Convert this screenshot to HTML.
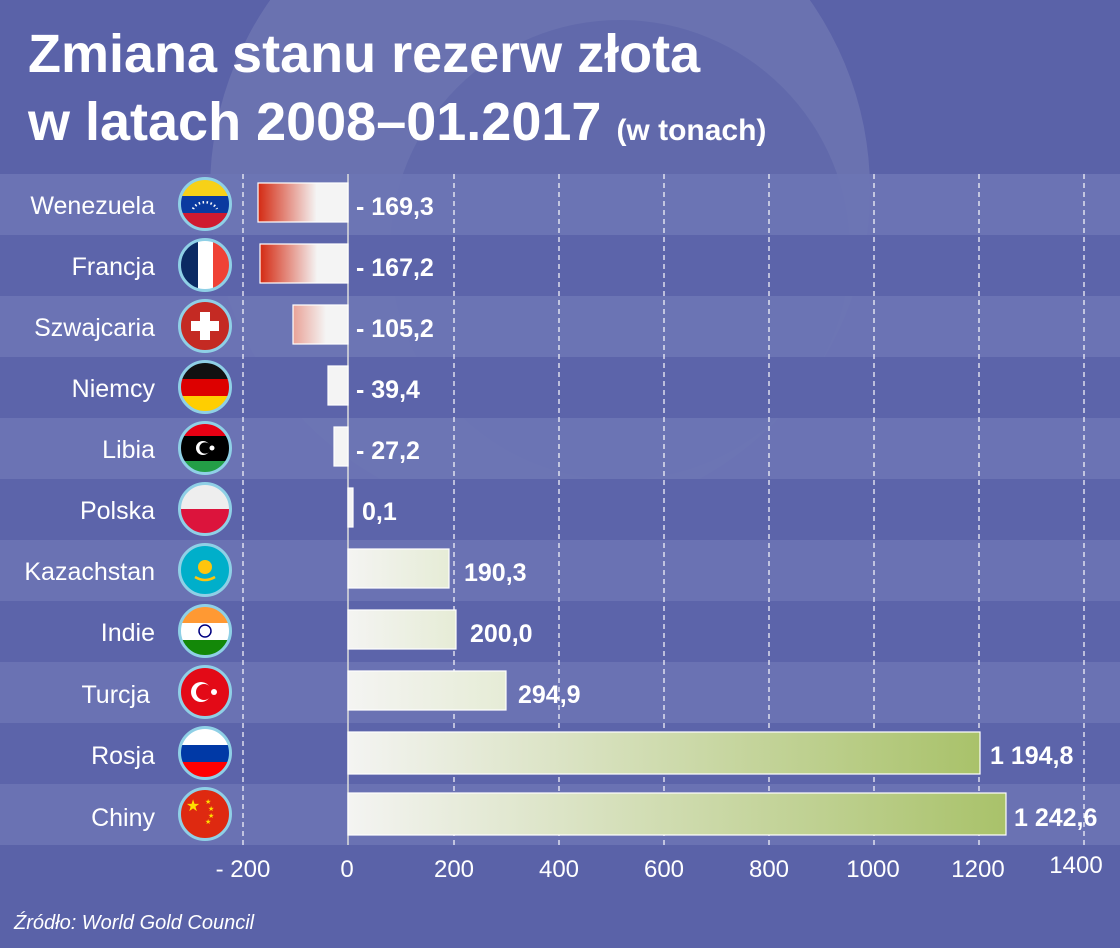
<!DOCTYPE html>
<html><head><meta charset="utf-8"><style>
body{margin:0;background:#5a62a8;}
svg{display:block;font-family:"Liberation Sans",sans-serif;}
</style></head><body>
<svg width="1120" height="948" viewBox="0 0 1120 948" xmlns="http://www.w3.org/2000/svg">
<defs>
<linearGradient id="red" x1="0" x2="1"><stop offset="0" stop-color="#d42a12"/><stop offset="0.65" stop-color="#f4f4f4"/><stop offset="1" stop-color="#f4f4f4"/></linearGradient>
<linearGradient id="red2" x1="0" x2="1"><stop offset="0" stop-color="#e9a196"/><stop offset="0.6" stop-color="#f4f4f4"/></linearGradient>
<linearGradient id="grn" x1="0" x2="1"><stop offset="0" stop-color="#f4f4f2"/><stop offset="1" stop-color="#a9c26a"/></linearGradient>
<linearGradient id="grn2" x1="0" x2="1"><stop offset="0" stop-color="#f4f4f2"/><stop offset="1" stop-color="#e6ecd6"/></linearGradient>
<clipPath id="c"><circle cx="0" cy="0" r="25"/></clipPath>
</defs>
<rect width="1120" height="948" fill="#5a62a8"/>
<circle cx="540" cy="190" r="330" fill="#ffffff" opacity="0.10"/>
<circle cx="620" cy="250" r="230" fill="#5a62a8" opacity="0.55"/>
<text x="28" y="72" font-size="54" font-weight="bold" fill="#fff">Zmiana stanu rezerw złota</text>
<text x="28" y="140" font-size="54" font-weight="bold" fill="#fff">w latach 2008–01.2017 <tspan font-size="30">(w tonach)</tspan></text>
<g id="rows">
<rect x="0" y="174" width="1120" height="61" fill="#6d75b5" opacity="0.9"/>
<rect x="0" y="235" width="1120" height="61" fill="#5c64aa"/>
<rect x="0" y="296" width="1120" height="61" fill="#6d75b5" opacity="0.9"/>
<rect x="0" y="357" width="1120" height="61" fill="#5c64aa"/>
<rect x="0" y="418" width="1120" height="61" fill="#6d75b5" opacity="0.9"/>
<rect x="0" y="479" width="1120" height="61" fill="#5c64aa"/>
<rect x="0" y="540" width="1120" height="61" fill="#6a72b3"/>
<rect x="0" y="601" width="1120" height="61" fill="#5c64aa"/>
<rect x="0" y="662" width="1120" height="61" fill="#6a72b3"/>
<rect x="0" y="723" width="1120" height="61" fill="#5c64aa"/>
<rect x="0" y="784" width="1120" height="61" fill="#6a72b3"/>
</g>
<g stroke="#fff" stroke-width="1.3" stroke-dasharray="5,4" opacity="0.9">
<line x1="243" y1="174" x2="243" y2="845"/><line x1="454" y1="174" x2="454" y2="845"/>
<line x1="559" y1="174" x2="559" y2="845"/><line x1="664" y1="174" x2="664" y2="845"/>
<line x1="769" y1="174" x2="769" y2="845"/><line x1="874" y1="174" x2="874" y2="845"/>
<line x1="979" y1="174" x2="979" y2="845"/><line x1="1084" y1="174" x2="1084" y2="845"/>
</g>
<line x1="348" y1="174" x2="348" y2="845" stroke="#ddd" stroke-width="1.5"/>
<g stroke="#fff" stroke-width="1.2">
<rect x="258" y="183" width="90" height="39" fill="url(#red)"/>
<rect x="260" y="244" width="88" height="39" fill="url(#red)"/>
<rect x="293" y="305" width="55" height="39" fill="url(#red2)"/>
<rect x="328" y="366" width="20" height="39" fill="#f4f4f4"/>
<rect x="334" y="427" width="14" height="39" fill="#f4f4f4"/>
<rect x="348" y="488" width="5" height="39" fill="#f4f4f4"/>
<rect x="348" y="549" width="101" height="39" fill="url(#grn2)"/>
<rect x="348" y="610" width="108" height="39" fill="url(#grn2)"/>
<rect x="348" y="671" width="158" height="39" fill="url(#grn2)"/>
<rect x="348" y="732" width="632" height="42" fill="url(#grn)"/>
<rect x="348" y="793" width="658" height="42" fill="url(#grn)"/>
</g>
<g fill="#fff" font-size="25" text-anchor="end">
<text x="155" y="214">Wenezuela</text><text x="155" y="275">Francja</text>
<text x="155" y="336">Szwajcaria</text><text x="155" y="397">Niemcy</text>
<text x="155" y="458">Libia</text><text x="155" y="519">Polska</text>
<text x="155" y="580">Kazachstan</text><text x="155" y="641">Indie</text>
<text x="150" y="703">Turcja</text><text x="155" y="764">Rosja</text>
<text x="155" y="826">Chiny</text>
</g>
<g fill="#fff" font-size="25" font-weight="bold">
<text x="356" y="215">- 169,3</text><text x="356" y="276">- 167,2</text>
<text x="356" y="337">- 105,2</text><text x="356" y="398">- 39,4</text>
<text x="356" y="459">- 27,2</text><text x="362" y="520">0,1</text>
<text x="464" y="581">190,3</text><text x="470" y="642">200,0</text>
<text x="518" y="703">294,9</text><text x="990" y="764">1 194,8</text>
<text x="1014" y="826">1 242,6</text>
</g>
<g fill="#fff" font-size="24" text-anchor="middle">
<text x="243" y="877">- 200</text><text x="347" y="877">0</text><text x="454" y="877">200</text>
<text x="559" y="877">400</text><text x="664" y="877">600</text><text x="769" y="877">800</text>
<text x="873" y="877">1000</text><text x="978" y="877">1200</text><text x="1076" y="873">1400</text>
</g>
<text x="14" y="929" fill="#fff" font-size="20" font-style="italic">Źródło: World Gold Council</text>
<!-- flags -->
<g transform="translate(205,204)"><g clip-path="url(#c)"><rect x="-25" y="-25" width="50" height="17" fill="#f7d117"/><rect x="-25" y="-8" width="50" height="17" fill="#0a3aa0"/><rect x="-25" y="9" width="50" height="17" fill="#cf1a30"/><path d="M-12 5 A13 11 0 0 1 12 5" stroke="#fff" stroke-width="2.5" stroke-dasharray="1.5,2.5" fill="none"/></g><circle r="25.5" fill="none" stroke="#8fd0e6" stroke-width="3"/></g>
<g transform="translate(205,265)"><g clip-path="url(#c)"><rect x="-25" y="-25" width="18" height="50" fill="#0b2a63"/><rect x="-7" y="-25" width="15" height="50" fill="#fff"/><rect x="8" y="-25" width="18" height="50" fill="#ef4135"/></g><circle r="25.5" fill="none" stroke="#8fd0e6" stroke-width="3"/></g>
<g transform="translate(205,326)"><circle r="25" fill="#c42a23"/><rect x="-14" y="-5" width="28" height="10" fill="#fff"/><rect x="-5" y="-14" width="10" height="28" fill="#fff"/><circle r="25.5" fill="none" stroke="#8fd0e6" stroke-width="3"/></g>
<g transform="translate(205,387)"><g clip-path="url(#c)"><rect x="-25" y="-25" width="50" height="17" fill="#111"/><rect x="-25" y="-8" width="50" height="17" fill="#dd0000"/><rect x="-25" y="9" width="50" height="17" fill="#ffce00"/></g><circle r="25.5" fill="none" stroke="#8fd0e6" stroke-width="3"/></g>
<g transform="translate(205,448)"><g clip-path="url(#c)"><rect x="-25" y="-25" width="50" height="13" fill="#e70013"/><rect x="-25" y="-12" width="50" height="25" fill="#000"/><rect x="-25" y="13" width="50" height="13" fill="#239e46"/><circle cx="-2" cy="0" r="7" fill="#fff"/><circle cx="0" cy="0" r="5.6" fill="#000"/><circle cx="7" cy="0" r="2.5" fill="#fff"/></g><circle r="25.5" fill="none" stroke="#8fd0e6" stroke-width="3"/></g>
<g transform="translate(205,509)"><g clip-path="url(#c)"><rect x="-25" y="-25" width="50" height="25" fill="#eee"/><rect x="-25" y="0" width="50" height="26" fill="#dc143c"/></g><circle r="25.5" fill="none" stroke="#8fd0e6" stroke-width="3"/></g>
<g transform="translate(205,570)"><circle r="25" fill="#00afca"/><circle cy="-3" r="7" fill="#fec50c"/><path d="M-10 7 Q0 13 10 7" stroke="#fec50c" stroke-width="2.5" fill="none"/><circle r="25.5" fill="none" stroke="#8fd0e6" stroke-width="3"/></g>
<g transform="translate(205,631)"><g clip-path="url(#c)"><rect x="-25" y="-25" width="50" height="17" fill="#ff9933"/><rect x="-25" y="-8" width="50" height="17" fill="#fff"/><rect x="-25" y="9" width="50" height="17" fill="#138808"/><circle r="6" fill="none" stroke="#000080" stroke-width="1.5"/></g><circle r="25.5" fill="none" stroke="#8fd0e6" stroke-width="3"/></g>
<g transform="translate(205,692)"><circle r="25" fill="#e30a17"/><circle cx="-4" r="10" fill="#fff"/><circle cx="-1" r="8" fill="#e30a17"/><circle cx="9" r="3" fill="#fff"/><circle r="25.5" fill="none" stroke="#8fd0e6" stroke-width="3"/></g>
<g transform="translate(205,753)"><g clip-path="url(#c)"><rect x="-25" y="-25" width="50" height="17" fill="#fff"/><rect x="-25" y="-8" width="50" height="17" fill="#0039a6"/><rect x="-25" y="9" width="50" height="17" fill="#ff0000"/></g><circle r="25.5" fill="none" stroke="#8fd0e6" stroke-width="3"/></g>
<g transform="translate(205,814)"><circle r="25" fill="#de2910"/><text x="-12" y="-3" font-size="16" fill="#ffde00" text-anchor="middle">★</text><text x="0" y="-10" font-size="7" fill="#ffde00">★</text><text x="3" y="-3" font-size="7" fill="#ffde00">★</text><text x="3" y="4" font-size="7" fill="#ffde00">★</text><text x="0" y="10" font-size="7" fill="#ffde00">★</text><circle r="25.5" fill="none" stroke="#8fd0e6" stroke-width="3"/></g>
</svg>
</body></html>
